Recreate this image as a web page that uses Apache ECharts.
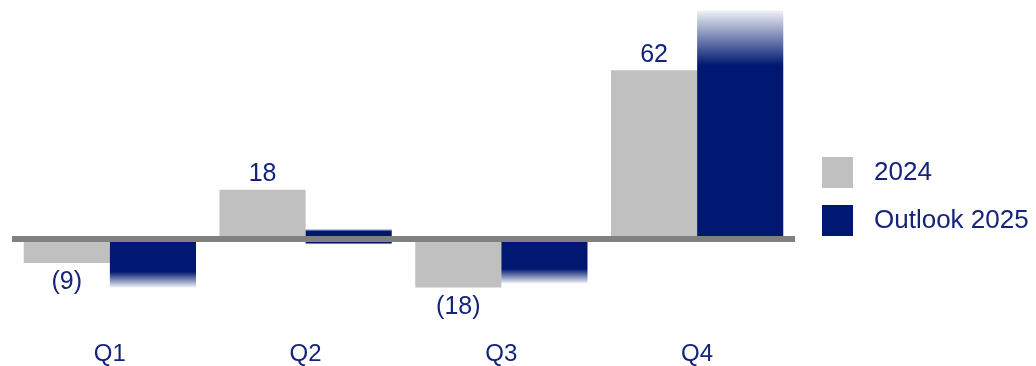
<!DOCTYPE html>
<html>
<head>
<meta charset="utf-8">
<script src="https://cdn.jsdelivr.net/npm/echarts@6/dist/echarts.min.js"></script>
<style>
  html, body { margin: 0; padding: 0; background: #fff; }
  #chart { width: 1036px; height: 366px; }
</style>
</head>
<body>
<div id="chart"></div>
<script>
// data
const quarters = ['Q1', 'Q2', 'Q3', 'Q4'];
const actual2024 = [-9, 18, -18, 62];
// outlook drawn as a band: upper and lower end per quarter
const outlookHigh = [null, 3.5, null, 84];
const outlookLow = [-18, -2.2, -16.5, null];

const navy = '#001871';
const fade = 'rgba(0,24,113,0.06)';
const textNavy = '#14237b';
const font = 'Liberation Sans, Arial, sans-serif';

const myChart = echarts.init(document.getElementById('chart'));

// fading ends on the outlook bars
const fadeUp = {
    type: 'linear', x: 0, y: 0, x2: 0, y2: 1,
    colorStops: [{ offset: 0, color: fade }, { offset: 0.24, color: navy }, { offset: 1, color: navy }]
};
const fadeDown = {
    type: 'linear', x: 0, y: 0, x2: 0, y2: 1,
    colorStops: [{ offset: 0, color: navy }, { offset: 0.68, color: navy }, { offset: 1, color: fade }]
};

const option = {
    animation: false,
    grid: { left: 12, right: 241, top: 5, bottom: 45 },
    legend: {
        data: ['2024', 'Outlook 2025'],
        orient: 'vertical',
        left: 817,
        top: 152,
        itemWidth: 31,
        itemHeight: 31,
        itemGap: 17,
        icon: 'rect',
        selectedMode: false,
        textStyle: { color: textNavy, fontSize: 26, fontFamily: font, padding: [0, 0, 0, 16] }
    },
    xAxis: [
        {
            type: 'category',
            data: quarters,
            z: 5,
            axisLine: { onZero: true, lineStyle: { color: '#808080', width: 6, cap: 'butt' } },
            axisTick: { show: false },
            axisLabel: { show: false }
        },
        {
            type: 'category',
            data: quarters,
            position: 'bottom',
            axisLine: { show: false, onZero: false },
            axisTick: { show: false },
            axisLabel: { color: textNavy, fontSize: 24, fontFamily: font, margin: 22 }
        }
    ],
    yAxis: {
        type: 'value',
        min: -30,
        max: 86,
        show: false,
        splitLine: { show: false }
    },
    series: [
        {
            name: '2024',
            type: 'bar',
            barGap: 0,
            barCategoryGap: '12%',
            itemStyle: { color: '#c0c0c0' },
            data: actual2024.map(v => ({
                value: v,
                label: { position: v < 0 ? 'bottom' : 'top', distance: v < 0 ? 7 : 3 }
            })),
            label: {
                show: true,
                color: textNavy,
                fontSize: 25,
                fontFamily: font,
                formatter: p => (p.value < 0 ? '(' + Math.abs(p.value) + ')' : p.value)
            }
        },
        {
            name: 'Outlook 2025',
            type: 'bar',
            stack: 'outlook',
            itemStyle: { color: navy },
            data: outlookHigh.map(v => (v == null ? '-' : { value: v, itemStyle: { color: fadeUp } }))
        },
        {
            name: 'Outlook 2025',
            type: 'bar',
            stack: 'outlook',
            itemStyle: { color: navy },
            data: outlookLow.map(v => (v == null ? '-' : { value: v, itemStyle: { color: fadeDown } }))
        }
    ]
};
myChart.setOption(option);
</script>
</body>
</html>
